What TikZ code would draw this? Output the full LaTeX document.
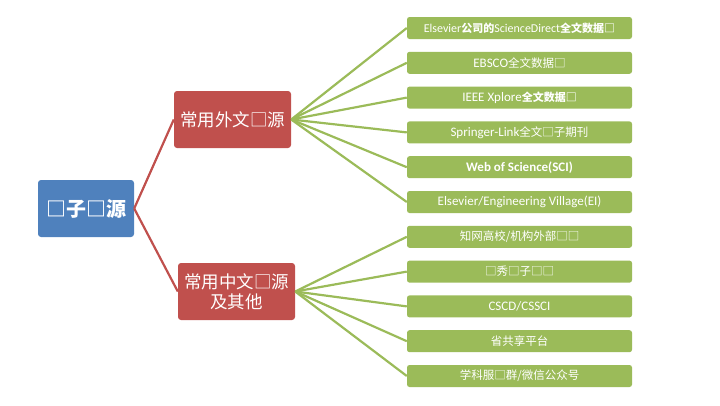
\documentclass[tikz,border=0pt]{standalone}
\usepackage{fontspec}
\setmainfont{Carlito}
\newfontfamily\cjk{Noto Sans CJK SC}
\usetikzlibrary{positioning}

\definecolor{rootblue}{HTML}{4F81BD}
\definecolor{groupred}{HTML}{C0504D}
\definecolor{leafgreen}{HTML}{9BBB59}

\newcommand{\zh}[1]{{\cjk\fontsize{11.5}{13}\selectfont #1}}
\newcommand{\zhb}[1]{{\cjk\bfseries\fontsize{11}{13}\selectfont #1}}

\tikzset{
	rootbox/.style={fill=rootblue, rounded corners=3pt, minimum width=96pt, minimum height=57pt, text=white, font=\cjk\bfseries\fontsize{20}{23}\selectfont},
	groupbox/.style={fill=groupred, rounded corners=3pt, minimum width=117pt, minimum height=57pt, text=white, align=center, font=\cjk\fontsize{17.5}{20}\selectfont},
	leafbox/.style={fill=leafgreen, rounded corners=2.5pt, minimum width=225pt, minimum height=22pt, inner sep=0pt, text=white, font=\fontsize{13}{14}\selectfont},
	branch/.style={draw=groupred, line width=2.2pt},
	twig/.style={draw=leafgreen, line width=2.2pt}
}

\begin{document}
\begin{tikzpicture}[x=1pt, y=-1pt]
	\useasboundingbox (0,0) rectangle (720,405);
	\node[rootbox] (root) at (86,208.5) {□子□源};
	\node[groupbox] (foreign) at (232.5,119.5) {常用外文□源};
	\node[groupbox] (chinese) at (236.5,291.5) {常用中文□源\\及其他};

	\node[leafbox] (sd) at (519.5,28) {\fontsize{12}{14}\selectfont Elsevier\zhb{公司的}ScienceDirect\zhb{全文数据□}};
	\node[leafbox] (ebsco) at (519.5,62.8) {EBSCO\zh{全文数据□}};
	\node[leafbox] (ieee) at (519.5,97.6) {IEEE Xplore\zhb{全文数据□}};
	\node[leafbox] (springer) at (519.5,132.4) {Springer-Link\zh{全文□子期刊}};
	\node[leafbox] (wos) at (519.5,167.2) {\bfseries Web of Science(SCI)};
	\node[leafbox] (ei) at (519.5,202) {Elsevier/Engineering Village(EI)};
	\node[leafbox] (cnki) at (519.5,236.8) {\zh{知网高校/机构外部□□}};
	\node[leafbox] (duxiu) at (519.5,271.6) {\zh{□秀□子□□}};
	\node[leafbox] (cscd) at (519.5,306.4) {CSCD/CSSCI};
	\node[leafbox] (share) at (519.5,341.2) {\zh{省共享平台}};
	\node[leafbox] (wechat) at (519.5,376) {\zh{学科服□群/微信公众号}};

	\path[branch]
	(root.east) edge (foreign.west)
	(root.east) edge (chinese.west)
	;
	\path[twig]
	(foreign.east) edge (sd.west)
	(foreign.east) edge (ebsco.west)
	(foreign.east) edge (ieee.west)
	(foreign.east) edge (springer.west)
	(foreign.east) edge (wos.west)
	(foreign.east) edge (ei.west)
	;
	\path[twig]
	(chinese.east) edge (cnki.west)
	(chinese.east) edge (duxiu.west)
	(chinese.east) edge (cscd.west)
	(chinese.east) edge (share.west)
	(chinese.east) edge (wechat.west)
	;
\end{tikzpicture}
\end{document}
